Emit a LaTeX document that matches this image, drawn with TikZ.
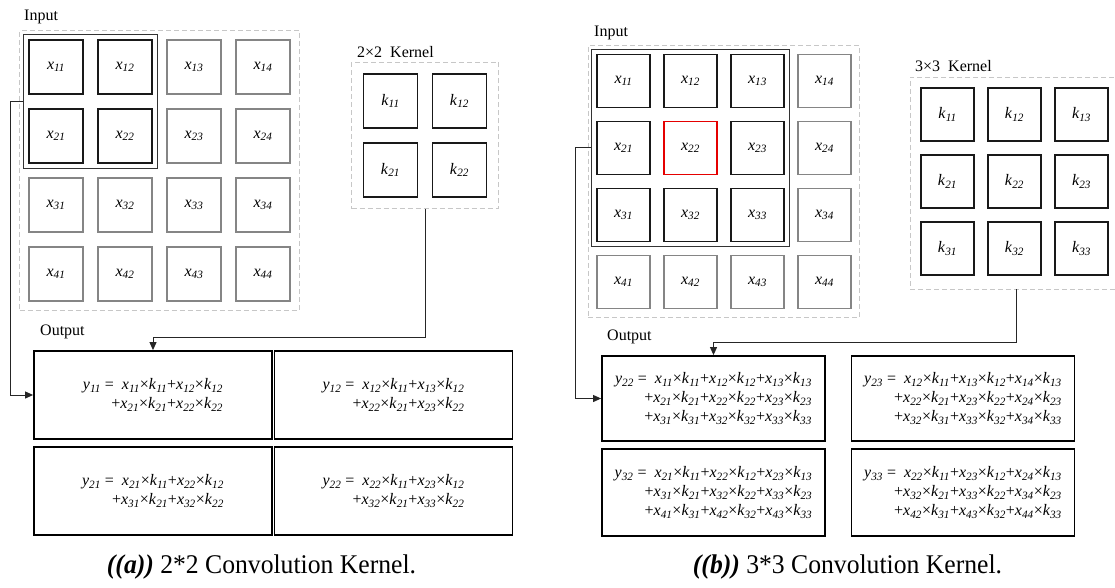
\documentclass[tikz,border=0pt]{standalone}
\usepackage{fontspec}
\setmainfont{Liberation Serif}
\usetikzlibrary{arrows.meta,fit,calc}
\newcommand\vr[2]{\textit{#1}\textsubscript{\textit{#2}}}
\newcommand\fsz{\fontsize{16}{19}\selectfont}
\begin{document}
\begin{tikzpicture}[x=1pt,y=-1pt,
  cellB/.style={draw=black!90, line width=1.6pt, inner sep=0pt, font=\fsz},
  cellG/.style={draw=black!48, line width=1.6pt, inner sep=0pt, font=\fsz},
  cellR/.style={draw=red!90!black, line width=1.1pt, inner sep=0pt, font=\fsz},
  dbox/.style={draw=black!22, line width=0.8pt, dash pattern=on 5pt off 3pt},
  win/.style={draw=black!80, line width=1pt},
  obox/.style={draw=black, line width=1.8pt, align=right, font=\fsz, inner sep=0pt},
  conn/.style={draw=black!85, line width=1pt, -{Triangle[length=8pt,width=7pt]}},
  lab/.style={anchor=west, font=\fsz, inner sep=0pt},
  captxt/.style={anchor=base, font=\fontsize{27}{30}\selectfont, inner sep=0pt}]
\useasboundingbox (0,0) rectangle (1115,588);

% ---------- (a) ----------
\node[lab] (inA) at (24,17) {Input};
\foreach \i in {1,...,4}{\foreach \j in {1,...,4}{
  \ifnum\i<3 \ifnum\j<3 \def\st{cellB}\else\def\st{cellG}\fi\else\def\st{cellG}\fi
  \node[\st, minimum size=54pt] (a\i\j) at ({56+69*(\j-1)},{67+69*(\i-1)}) {\vr{x}{\i\j}};
}}
\node[win, fit=(a11)(a22), inner sep=4.5pt] (winA) {};
\node[dbox, fit=(a11)(a44), inner sep=8.5pt] (boxA) {};

\node[lab] (kA) at (357,52) {2×2\ \ Kernel};
\foreach \i in {1,2}{\foreach \j in {1,2}{
  \node[cellB, minimum size=54pt] (ka\i\j) at ({390.5+69*(\j-1)},{101+69*(\i-1)}) {\vr{k}{\i\j}};
}}
\node[dbox, fit=(ka11)(ka22), inner sep=11pt] (KA) {};

\node[lab] (outA) at (40,332) {Output};
\node[obox, minimum width=238pt, minimum height=88pt] (o11) at (153,395)
  {\vr{y}{11} =\ \ \vr{x}{11}×\vr{k}{11}+\vr{x}{12}×\vr{k}{12}\\+\vr{x}{21}×\vr{k}{21}+\vr{x}{22}×\vr{k}{22}};
\node[obox, minimum width=238pt, minimum height=88pt] (o12) at (393.5,395)
  {\vr{y}{12} =\ \ \vr{x}{12}×\vr{k}{11}+\vr{x}{13}×\vr{k}{12}\\+\vr{x}{22}×\vr{k}{21}+\vr{x}{23}×\vr{k}{22}};
\node[obox, minimum width=238pt, minimum height=88pt] (o21) at (153,491)
  {\vr{y}{21} =\ \ \vr{x}{21}×\vr{k}{11}+\vr{x}{22}×\vr{k}{12}\\+\vr{x}{31}×\vr{k}{21}+\vr{x}{32}×\vr{k}{22}};
\node[obox, minimum width=238pt, minimum height=88pt] (o22) at (393.5,491)
  {\vr{y}{22} =\ \ \vr{x}{22}×\vr{k}{11}+\vr{x}{23}×\vr{k}{12}\\+\vr{x}{32}×\vr{k}{21}+\vr{x}{33}×\vr{k}{22}};

\draw[conn] (winA.west) -- ++(-13,0) |- (o11.west);
\draw[conn] (KA.south) -- ++(0,128) -| (o11.north);

% ---------- (b) ----------
\node[lab] (inB) at (594,33) {Input};
\foreach \i in {1,...,4}{\foreach \j in {1,...,4}{
  \ifnum\i<4 \ifnum\j<4 \def\st{cellB}\else\def\st{cellG}\fi\else\def\st{cellG}\fi
  \ifnum\i=2 \ifnum\j=2 \def\st{cellR}\fi\fi
  \node[\st, minimum size=53pt] (b\i\j) at ({623.5+67*(\j-1)},{81+67*(\i-1)}) {\vr{x}{\i\j}};
}}
\node[win, fit=(b11)(b33), inner sep=4.5pt] (winB) {};
\node[dbox, fit=(b11)(b44), inner sep=8pt] (boxB) {};

\node[lab] (kB) at (915,66) {3×3\ \ Kernel};
\foreach \i in {1,2,3}{\foreach \j in {1,2,3}{
  \node[cellB, minimum size=53pt] (kb\i\j) at ({947.5+67*(\j-1)},{114.5+67*(\i-1)}) {\vr{k}{\i\j}};
}}
\node[dbox, minimum width=212pt, minimum height=212pt] (KB) at (1016,183) {};

\node[lab] (outB) at (607,337) {Output};
\node[obox, minimum width=223pt, minimum height=85pt] (p11) at (713.5,398.5)
  {\vr{y}{22} =\ \ \vr{x}{11}×\vr{k}{11}+\vr{x}{12}×\vr{k}{12}+\vr{x}{13}×\vr{k}{13}\\
   +\vr{x}{21}×\vr{k}{21}+\vr{x}{22}×\vr{k}{22}+\vr{x}{23}×\vr{k}{23}\\
   +\vr{x}{31}×\vr{k}{31}+\vr{x}{32}×\vr{k}{32}+\vr{x}{33}×\vr{k}{33}};
\node[obox, minimum width=223pt, minimum height=85pt] (p12) at (963,398.5)
  {\vr{y}{23} =\ \ \vr{x}{12}×\vr{k}{11}+\vr{x}{13}×\vr{k}{12}+\vr{x}{14}×\vr{k}{13}\\
   +\vr{x}{22}×\vr{k}{21}+\vr{x}{23}×\vr{k}{22}+\vr{x}{24}×\vr{k}{23}\\
   +\vr{x}{32}×\vr{k}{31}+\vr{x}{33}×\vr{k}{32}+\vr{x}{34}×\vr{k}{33}};
\node[obox, minimum width=223pt, minimum height=87pt] (p21) at (713.5,492.5)
  {\vr{y}{32} =\ \ \vr{x}{21}×\vr{k}{11}+\vr{x}{22}×\vr{k}{12}+\vr{x}{23}×\vr{k}{13}\\
   +\vr{x}{31}×\vr{k}{21}+\vr{x}{32}×\vr{k}{22}+\vr{x}{33}×\vr{k}{23}\\
   +\vr{x}{41}×\vr{k}{31}+\vr{x}{42}×\vr{k}{32}+\vr{x}{43}×\vr{k}{33}};
\node[obox, minimum width=223pt, minimum height=87pt] (p22) at (963,492.5)
  {\vr{y}{33} =\ \ \vr{x}{22}×\vr{k}{11}+\vr{x}{23}×\vr{k}{12}+\vr{x}{24}×\vr{k}{13}\\
   +\vr{x}{32}×\vr{k}{21}+\vr{x}{33}×\vr{k}{22}+\vr{x}{34}×\vr{k}{23}\\
   +\vr{x}{42}×\vr{k}{31}+\vr{x}{43}×\vr{k}{32}+\vr{x}{44}×\vr{k}{33}};

\draw[conn] (winB.west) -- ++(-16,0) |- (p11.west);
\draw[conn] (KB.south) -- ++(0,53) -| (p11.north);

% ---------- captions ----------
\node[captxt] (capA) at (261.5,573) {\scalebox{0.95}[1]{\textbf{\textit{((a))}} 2*2 Convolution Kernel.}};
\node[captxt] (capB) at (847.5,573) {\scalebox{0.95}[1]{\textbf{\textit{((b))}} 3*3 Convolution Kernel.}};
\end{tikzpicture}
\end{document}
